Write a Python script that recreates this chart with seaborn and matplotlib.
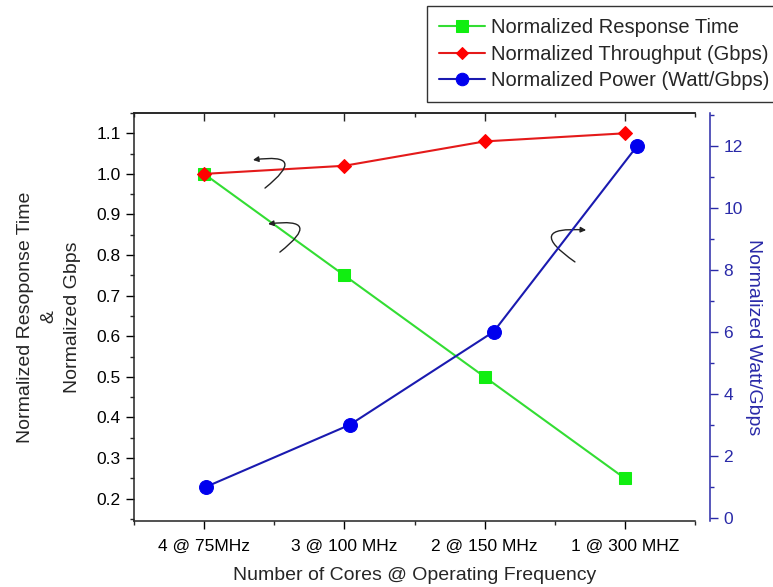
import matplotlib
matplotlib.use("Agg")
import matplotlib.pyplot as plt
import numpy as np
import pandas as pd
import seaborn as sns
from matplotlib.ticker import MultipleLocator

sns.set_style("ticks")
plt.rcParams['font.family'] = ['Liberation Sans', 'DejaVu Sans']
plt.rcParams['axes.grid'] = False

# ---- data ----
cores = ["4 @ 75MHz", "3 @ 100 MHz", "2 @ 150 MHz", "1 @ 300 MHZ"]
response_time = [1.00, 0.75, 0.50, 0.25]
throughput = [1.00, 1.02, 1.08, 1.10]
power = [1, 3, 6, 12]

df = pd.DataFrame({"cores": cores, "resp": response_time,
                   "thr": throughput, "pwr": power})

GREEN = "#33dd33"
RED = "#e41a1a"
BLUE = "#1a1ab0"
AXBLUE = "#2a2aa8"

fig = plt.figure(figsize=(7.73, 5.87), dpi=100)
ax = fig.add_axes([134 / 773, 1 - 521 / 587, 561 / 773, 408 / 587])

sns.lineplot(data=df, x="cores", y="resp", sort=False, ax=ax, color=GREEN,
             lw=1.5, marker="s", ms=9, mfc="#11ee11", mec="#11ee11",
             label="Normalized Response Time")
sns.lineplot(data=df, x="cores", y="thr", sort=False, ax=ax, color=RED,
             lw=1.5, marker="D", ms=7, mfc="#ff0000", mec="#ff0000",
             label="Normalized Throughput (Gbps)")

ax.set_xlim(-0.5, 3.5)
ax.set_ylim(0.145, 1.15)
ax.set_xticks(range(len(cores)))
ax.set_xticklabels(cores)
ax.set_xticks(np.arange(-0.5, 3.6, 1.0), minor=True)
ax.yaxis.set_major_locator(MultipleLocator(0.1))
ax.yaxis.set_minor_locator(MultipleLocator(0.05))
ax.yaxis.set_major_formatter(matplotlib.ticker.FormatStrFormatter('%.1f'))
ax.tick_params(axis='both', which='major', direction='out', length=6,
               width=1, labelsize=12.5, colors='black')
ax.tick_params(axis='x', which='major', pad=7)
ax.tick_params(axis='both', which='minor', direction='out', length=3, width=1)
ax.spines['right'].set_visible(False)
for s in ['left', 'bottom', 'top']:
    ax.spines[s].set_linewidth(1.1)
    ax.spines[s].set_color('#222222')

top = ax.secondary_xaxis('top')
top.set_xticks(range(len(cores)), labels=[])
top.set_xticks(np.arange(-0.5, 3.6, 1.0), minor=True)
top.tick_params(which='major', direction='in', length=6, width=1)
top.tick_params(which='minor', direction='in', length=3, width=1)
top.spines['top'].set_linewidth(1.1)

ax.set_xlabel("Number of Cores @ Operating Frequency", fontsize=14, labelpad=9)
ax.set_ylabel("Normalized Resoponse Time\n&\nNormalized Gbps", fontsize=14,
              linespacing=1.5)
ax.yaxis.set_label_coords(-0.095, 0.5)

# ---- blue layer with its own right axis ----
ax2 = fig.add_axes(ax.get_position(), facecolor='none')
sns.lineplot(data=df, x="cores", y="pwr", sort=False, ax=ax2, color=BLUE,
             lw=1.5, marker="o", ms=10, mfc="#0000ee", mec="#0000ee",
             label="Normalized Power (Watt/Gbps)")
ax2.set_xlim(-0.5, 3.4)
ax2.set_ylim(-0.1, 13.05)
ax2.xaxis.set_visible(False)
for s in ['left', 'top', 'bottom']:
    ax2.spines[s].set_visible(False)
ax2.spines['right'].set_position(('outward', 11))
ax2.spines['right'].set_color(AXBLUE)
ax2.spines['right'].set_linewidth(1.1)
ax2.yaxis.tick_right()
ax2.yaxis.set_major_locator(MultipleLocator(2))
ax2.yaxis.set_minor_locator(MultipleLocator(1))
ax2.tick_params(axis='y', which='major', direction='out', length=6, width=1,
                colors=AXBLUE, labelsize=12.5)
ax2.tick_params(axis='y', which='minor', direction='out', length=3, width=1,
                colors=AXBLUE)
ax2.yaxis.set_label_position('right')
ax2.set_ylabel("Normalized Watt/Gbps", fontsize=14, color=AXBLUE,
               rotation=270, va='center')
ax2.yaxis.set_label_coords(1.105, 0.45)

# ---- legend ----
h1, l1 = ax.get_legend_handles_labels()
h2, l2 = ax2.get_legend_handles_labels()
ax.get_legend().remove()
ax2.get_legend().remove()
leg = fig.legend(h1 + h2, l1 + l2, loc='upper left',
                 bbox_to_anchor=(427 / 773, 1 - 6 / 587), fontsize=14.5,
                 frameon=True, fancybox=False, edgecolor='#333333',
                 borderaxespad=0, labelspacing=0.38, handlelength=2.3,
                 handletextpad=0.3, borderpad=0.6, markerscale=0.9)
leg.get_frame().set_linewidth(1.0)
leg.get_frame().set_alpha(1)

# ---- curved arrows pointing to the matching axis ----
arrow = dict(arrowstyle='-|>', color='#222222', lw=1.0, shrinkA=0, shrinkB=0,
             mutation_scale=8)
ax.annotate("", xy=(0.212, 0.885), xytext=(0.2335, 0.816),
            xycoords='axes fraction',
            arrowprops=dict(arrow, connectionstyle="arc3,rad=1.8"))
ax.annotate("", xy=(0.239, 0.728), xytext=(0.260, 0.659),
            xycoords='axes fraction',
            arrowprops=dict(arrow, connectionstyle="arc3,rad=1.8"))
ax.annotate("", xy=(0.806, 0.713), xytext=(0.786, 0.635),
            xycoords='axes fraction',
            arrowprops=dict(arrow, connectionstyle="arc3,rad=-1.8"))

fig.savefig("out.png", dpi=100, facecolor='white')
